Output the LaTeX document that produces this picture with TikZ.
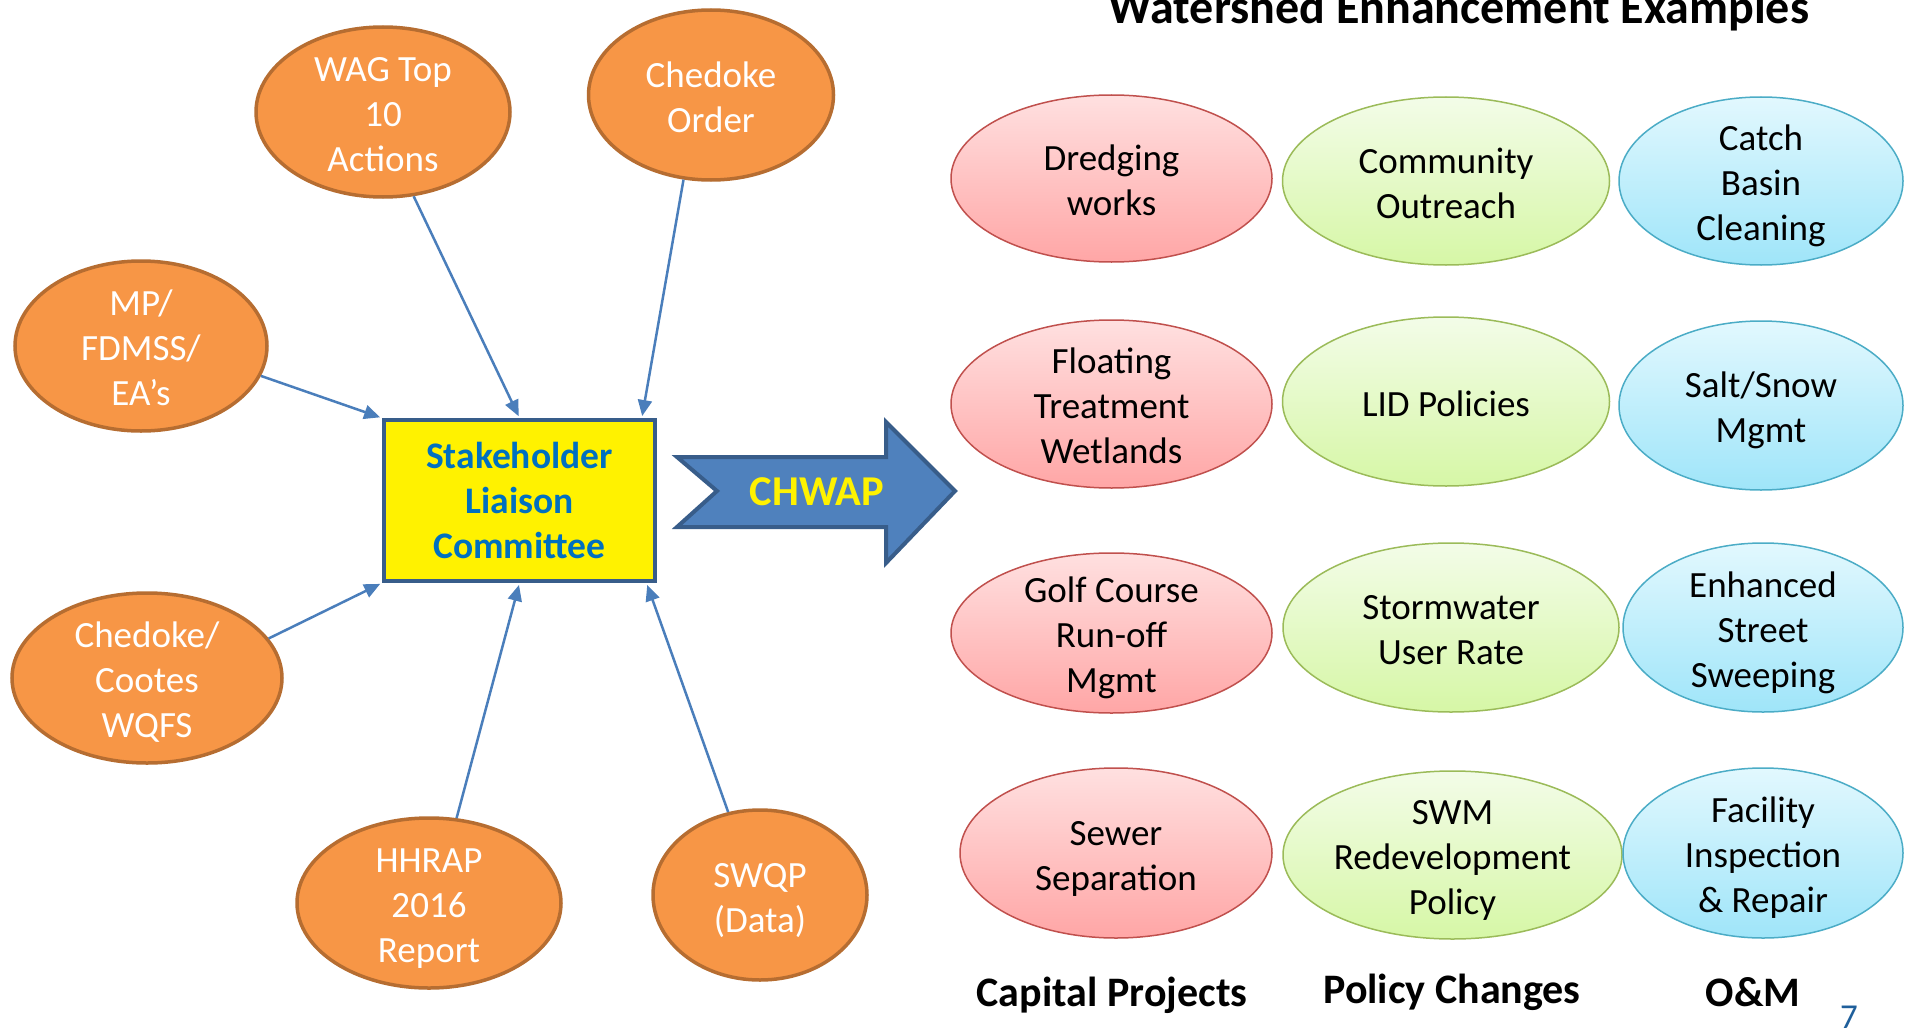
\documentclass[tikz,border=0pt]{standalone}
\usepackage{fontspec}
\setmainfont{Carlito}
\usetikzlibrary{shapes.geometric,arrows.meta,calc}
\definecolor{orfill}{HTML}{F79646}
\definecolor{ordraw}{HTML}{B66D31}
\definecolor{pinktop}{HTML}{FFE0E0}
\definecolor{pinkbot}{HTML}{FFA6A6}
\definecolor{pinkdraw}{HTML}{C0504D}
\definecolor{greentop}{HTML}{F3FCE8}
\definecolor{greenbot}{HTML}{D6F7A6}
\definecolor{greendraw}{HTML}{9BBB59}
\definecolor{bluetop}{HTML}{E2F8FE}
\definecolor{bluebot}{HTML}{9FE5F9}
\definecolor{bluedraw}{HTML}{4BACC6}
\definecolor{connblue}{HTML}{4A7EBB}
\definecolor{darkblue}{HTML}{385D8A}
\definecolor{accblue}{HTML}{4F81BD}
\definecolor{txtblue}{HTML}{0070C0}
\definecolor{pagenum}{HTML}{1F5F9B}
% text block with no height of its own (shape size comes from minimum width/height), lowered slightly
\newcommand{\lowtxt}[1]{\raisebox{-12pt}[0pt][0pt]{\begin{tabular}{@{}c@{}}#1\end{tabular}}}
\begin{document}
\begin{tikzpicture}[x=1pt,y=-1pt,
  src/.style={ellipse, draw=ordraw, line width=3.5pt, fill=orfill, text=white, inner sep=0pt, font=\fontsize{37}{45}\selectfont},
  ex/.style={ellipse, line width=1.5pt, inner sep=0pt, font=\fontsize{37}{45}\selectfont},
  pinkell/.style={ex, draw=pinkdraw, top color=pinktop, bottom color=pinkbot},
  greenell/.style={ex, draw=greendraw, top color=greentop, bottom color=greenbot},
  blueell/.style={ex, draw=bluedraw, top color=bluetop, bottom color=bluebot},
  conn/.style={draw=connblue, line width=2.5pt, -{Triangle[length=16pt,width=14pt]}, shorten >=2pt},
  lbl/.style={font=\bfseries\fontsize{42}{50}\selectfont, anchor=base, inner sep=0pt}
]
\useasboundingbox (0,0) rectangle (1905,1030);

% title
\node[font=\bfseries\fontsize{48}{56}\selectfont, anchor=base, inner sep=0pt] (title) at (1459,24) {Watershed Enhancement Examples};

% central box
\node[draw=darkblue, line width=4.5pt, fill=yellow, minimum width=271pt, minimum height=161pt, inner sep=0pt, outer sep=2pt, align=center, text=txtblue, font=\bfseries\fontsize{37.5}{45}\selectfont] (box) at (519.5,500.5) {Stakeholder\\Liaison\\Committee};

% source ellipses
\node[src, minimum width=254pt, minimum height=170pt] (wag) at (383,112) {\lowtxt{WAG Top\\10\\Actions}};
\node[src, minimum width=245pt, minimum height=170pt] (ord) at (711,95) {\lowtxt{Chedoke\\Order}};
\node[src, minimum width=252pt, minimum height=170pt] (mp) at (141,346) {\lowtxt{MP/\\FDMSS/\\EA’s}};
\node[src, minimum width=270pt, minimum height=170pt] (cootes) at (147,678) {\lowtxt{Chedoke/\\Cootes\\WQFS}};
\node[src, minimum width=264pt, minimum height=170pt] (hhrap) at (429,903) {\lowtxt{HHRAP\\2016\\Report}};
\node[src, minimum width=214pt, minimum height=170pt] (swqp) at (760,895) {\lowtxt{SWQP\\(Data)}};

% connectors
\draw[conn] (wag.-70) -- (box.north);
\draw[conn] (ord.-108) -- (box.34.7);
\draw[conn] (mp.-14) -- (box.north west);
\draw[conn] (cootes.18) -- (box.south west);
\draw[conn] (hhrap.72) -- (box.south);
\draw[conn] (swqp.111) -- (box.-33);

% CHWAP arrow
\draw[draw=darkblue, fill=accblue, line width=4pt, line join=miter]
  (677,457) -- (886,457) -- (886,422) -- (955,491) -- (886,563) -- (886,527) -- (677,527) -- (717,491) -- cycle;
\node[font=\bfseries\fontsize{42.5}{48}\selectfont, text=yellow, inner sep=0pt] (chwap) at (817,492) {CHWAP};

% examples
\node[pinkell, minimum width=321pt, minimum height=167pt] (dredge) at (1111.5,178.5) {\lowtxt{Dredging\\works}};
\node[greenell, minimum width=327pt, minimum height=168pt] (comm) at (1446,181) {\lowtxt{Community\\Outreach}};
\node[blueell, minimum width=284pt, minimum height=168pt] (catch) at (1761,181) {\lowtxt{Catch\\Basin\\Cleaning}};

\node[pinkell, minimum width=321pt, minimum height=168pt] (float) at (1111.5,404) {\lowtxt{Floating\\Treatment\\Wetlands}};
\node[greenell, minimum width=327pt, minimum height=169pt] (lid) at (1446,401.5) {\lowtxt{LID Policies}};
\node[blueell, minimum width=284pt, minimum height=169pt] (salt) at (1761,405.5) {\lowtxt{Salt/Snow\\Mgmt}};

\node[pinkell, minimum width=321pt, minimum height=160pt] (golf) at (1111.5,633) {\lowtxt{Golf Course\\Run-off\\Mgmt}};
\node[greenell, minimum width=336pt, minimum height=169pt] (storm) at (1451,627.5) {\lowtxt{Stormwater\\User Rate}};
\node[blueell, minimum width=280pt, minimum height=169pt] (enh) at (1763,627.5) {\lowtxt{Enhanced\\Street\\Sweeping}};

\node[pinkell, minimum width=312pt, minimum height=170pt] (sewer) at (1116,853) {\lowtxt{Sewer\\Separation}};
\node[greenell, minimum width=339pt, minimum height=168pt] (swm) at (1452.5,855) {\lowtxt{SWM\\Redevelopment\\Policy}};
\node[blueell, minimum width=280pt, minimum height=170pt] (fac) at (1763,853) {\lowtxt{Facility\\Inspection\\\& Repair}};

% column labels
\node[lbl] (capital) at (1112,1006) {Capital Projects};
\node[lbl] (policy) at (1452,1003) {Policy Changes};
\node[lbl] (om) at (1753,1006) {O\&M};

% page number
\node[font=\fontsize{35}{40}\selectfont, text=pagenum, anchor=base, inner sep=0pt] (page) at (1849,1028) {7};
\end{tikzpicture}
\end{document}
